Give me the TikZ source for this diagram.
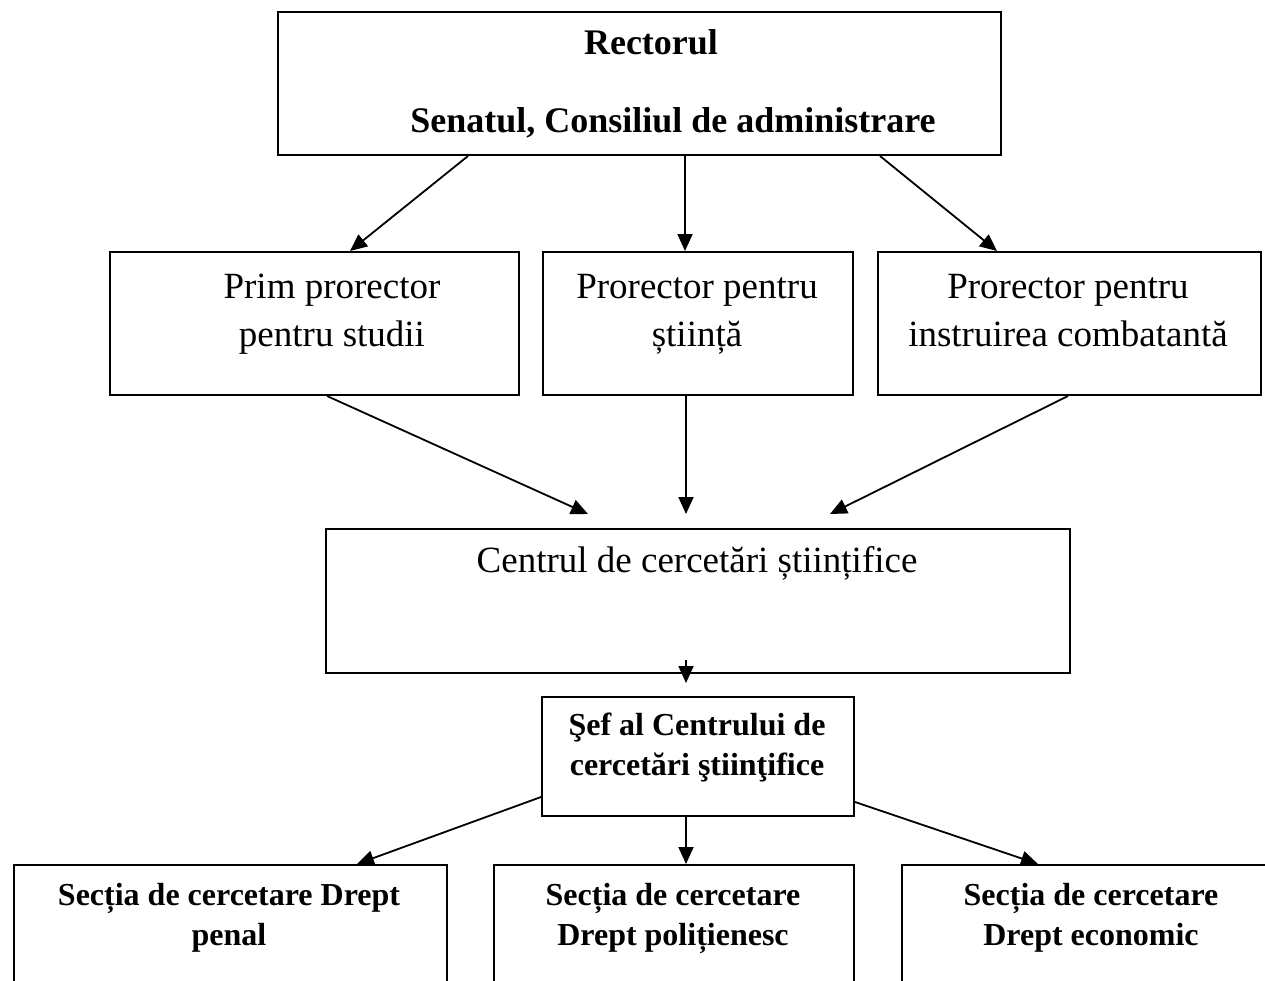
\documentclass[tikz,border=0pt]{standalone}
\usepackage{fontspec}
\setmainfont{Liberation Serif}
\usetikzlibrary{arrows.meta}

\tikzset{
  box/.style={draw, line width=2pt, inner sep=0pt, anchor=north west},
  reg/.style={align=center, inner sep=0pt, anchor=base, font=\fontsize{37}{48}\selectfont},
  bld/.style={align=center, inner sep=0pt, anchor=base, font=\fontsize{32}{40}\selectfont\bfseries},
  link/.style={-{Triangle[length=17pt,width=15pt]}, line width=1.8pt},
}

\begin{document}
\begin{tikzpicture}[x=1pt, y=-1pt]
\useasboundingbox (0,0) rectangle (1265,980);
\fill[white] (0,0) rectangle (1265,980);
\clip (0,0) rectangle (1265,980);
% boxes
\node[box, minimum width=723pt, minimum height=143pt] (rector) at (277,11) {};
\node[box, minimum width=409pt, minimum height=143pt] (prim) at (109,251) {};
\node[box, minimum width=310pt, minimum height=143pt] (stiinta) at (542,251) {};
\node[box, minimum width=383pt, minimum height=143pt] (instr) at (877,251) {};
\node[box, minimum width=744pt, minimum height=144pt] (centru) at (325,528) {};
\node[box, minimum width=312pt, minimum height=119pt] (sef) at (541,696) {};
\node[box, minimum width=433pt, minimum height=130pt] (penal) at (13,864) {};
\node[box, minimum width=360pt, minimum height=130pt] (polit) at (493,864) {};
\node[box, minimum width=380pt, minimum height=130pt] (econ) at (901,864) {};
% texts (base = last line)
\node[bld, font=\fontsize{36}{48}\selectfont\bfseries] (rectorT) at (651,54) {Rectorul};
\node[bld, font=\fontsize{36}{48}\selectfont\bfseries] (senatT) at (673,132) {Senatul, Consiliul de administrare};
\node[reg] (primT) at (332,346) {Prim prorector\\pentru studii};
\node[reg] (stiintaT) at (697,346) {Prorector pentru\\știință};
\node[reg] (instrT) at (1068,346) {Prorector pentru\\instruirea combatantă};
\node[reg] (centruT) at (697,572) {Centrul de cercetări științifice};
\node[bld] (sefT) at (697,775) {Şef al Centrului de\\cercetări ştiinţifice};
\node[bld] (penalT) at (229,945) {Secția de cercetare Drept\\penal};
\node[bld] (politT) at (673,945) {Secția de cercetare\\Drept polițienesc};
\node[bld] (econT) at (1091,945) {Secția de cercetare\\Drept economic};
% arrows
\draw[link] ([xshift=191pt]rector.south west) -- ([xshift=241pt]prim.north west);
\draw[link] ([xshift=408pt]rector.south west) -- ([xshift=143pt]stiinta.north west);
\draw[link] ([xshift=603pt]rector.south west) -- ([xshift=120pt]instr.north west);
\draw[link] ([xshift=218pt]prim.south west) -- ([xshift=263pt,yshift=14pt]centru.north west);
\draw[link] ([xshift=144pt]stiinta.south west) -- ([xshift=361pt,yshift=14pt]centru.north west);
\draw[link] ([xshift=191pt]instr.south west) -- ([xshift=505pt,yshift=14pt]centru.north west);
\draw[link] ([xshift=361pt,yshift=14pt]centru.south west) -- ([xshift=145pt,yshift=13pt]sef.north west);
\draw[link] ([yshift=20pt]sef.south west) -- ([xshift=344pt]penal.north west);
\draw[link] ([xshift=145pt]sef.south west) -- ([xshift=193pt]polit.north west);
\draw[link] ([yshift=15pt]sef.south east) -- ([xshift=137pt]econ.north west);
\end{tikzpicture}
\end{document}
